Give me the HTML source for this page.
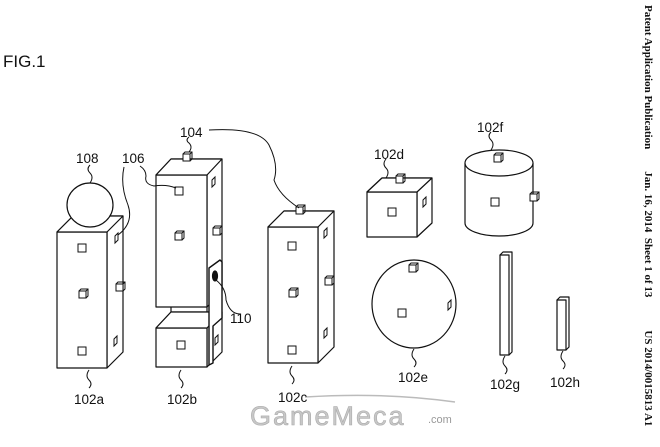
<!DOCTYPE html>
<html><head><meta charset="utf-8"><style>
html,body{margin:0;padding:0;background:#fff;}
svg{display:block;}
text{font-family:"Liberation Sans",sans-serif;fill:#111;}
</style></head><body>
<svg width="660" height="447" viewBox="0 0 660 447" xmlns="http://www.w3.org/2000/svg">
<defs>
<g id="c"><rect x="0" y="0" width="7" height="7" fill="#fff" stroke="#111" stroke-width="1"/><path d="M0 0 l2 -2 h7 v7 l-2 2 M7 0 l2 -2" fill="none" stroke="#111" stroke-width="1"/></g>
<g id="s"><path d="M0 1 l3 -3 v7 l-3 3 z" fill="#fff" stroke="#111" stroke-width="1"/></g>
<g id="q"><rect x="0" y="0" width="8" height="8" fill="#fff" stroke="#111" stroke-width="1"/></g>
</defs>
<g fill="#fff" stroke="#111" stroke-width="1.2" stroke-linejoin="round">
<!-- 102a -->
<path d="M57 232 L73 216 L123 216 L123 352 L107 368 L107 232 Z"/>
<rect x="57" y="232" width="50" height="136"/>
<path d="M57 232 L73 216 L123 216 L107 232 Z"/>
<!-- sphere 108 -->
<ellipse cx="90" cy="205" rx="23" ry="22"/>
<!-- 102b upper -->
<path d="M156 175 L171 159 L222 159 L222 291 L207 307 L207 175 Z"/>
<rect x="156" y="175" width="51" height="132"/>
<path d="M156 175 L171 159 L222 159 L207 175 Z"/>
<!-- 102b lower -->
<path d="M156 328 L171 312 L222 312 L222 352 L207 367 L207 328 Z"/>
<path d="M171 307 L171 312 M207 307 L207 312"/>
<rect x="156" y="328" width="51" height="39"/>
<path d="M156 328 L171 312 L222 312 L207 328 Z"/>
<!-- bracket 110 -->
<path d="M209 268 L220 260 L222 262 L222 318 L213 326 L213 363 L209 365 Z" stroke-width="1.4"/>
<ellipse cx="215" cy="276" rx="2.5" ry="5" fill="#111"/>
<!-- 102c -->
<path d="M268 227 L284 211 L334 211 L334 347 L318 363 L318 227 Z"/>
<rect x="268" y="227" width="50" height="136"/>
<path d="M268 227 L284 211 L334 211 L318 227 Z"/>
<!-- 102d -->
<path d="M367 192 L382 178 L432 178 L432 223 L417 237 L417 192 Z"/>
<rect x="367" y="192" width="50" height="45"/>
<path d="M367 192 L382 178 L432 178 L417 192 Z"/>
<!-- 102f cylinder -->
<path d="M465 163 L465 223 A34 13 0 0 0 533 223 L533 163"/>
<ellipse cx="499" cy="163" rx="34" ry="13"/>
<!-- 102e -->
<ellipse cx="414" cy="304" rx="42" ry="44"/>
<!-- 102g -->
<path d="M500 255 L503 252 L512 252 L512 352 L509 355 Z"/>
<rect x="500" y="255" width="9" height="100"/>
<!-- 102h -->
<path d="M557 300 L560 297 L569 297 L569 347 L566 350 Z"/>
<rect x="557" y="300" width="9" height="50"/>
</g>
<!-- markers -->
<g>
<use href="#q" x="78" y="244"/><use href="#c" x="79" y="291"/><use href="#q" x="78" y="347"/>
<use href="#s" x="115" y="235"/><use href="#c" x="116" y="284"/><use href="#s" x="114" y="338"/>
<use href="#c" x="183" y="154"/><use href="#q" x="175" y="187"/><use href="#c" x="175" y="233"/>
<use href="#s" x="212" y="179"/><use href="#c" x="213" y="228"/><use href="#q" x="177" y="341"/><use href="#s" x="215" y="337"/>
<use href="#c" x="296" y="207"/><use href="#q" x="288" y="242"/><use href="#c" x="289" y="290"/><use href="#q" x="288" y="346"/>
<use href="#s" x="324" y="230"/><use href="#c" x="325" y="278"/><use href="#s" x="324" y="330"/>
<use href="#c" x="396" y="176"/><use href="#q" x="388" y="208"/><use href="#s" x="423" y="199"/>
<use href="#c" x="494" y="155"/><use href="#q" x="491" y="198"/><use href="#c" x="530" y="194"/>
<use href="#c" x="409" y="265"/><use href="#q" x="398" y="309"/><use href="#s" x="448" y="302"/>
</g>
<!-- leaders -->
<g fill="none" stroke="#111" stroke-width="1">
<path d="M89 370 q-4 6 0 10 q4 4 0 8"/>
<path d="M181 370 q-4 6 0 10 q4 4 0 8"/>
<path d="M292 366 q-4 6 0 10 q4 4 0 8"/>
<path d="M414 349 q-4 6 0 10 q4 4 0 8"/>
<path d="M505 356 q-4 6 0 10 q4 4 0 8"/>
<path d="M563 351 q-4 6 0 10 q4 4 0 8"/>
<path d="M386 178 q4 -6 0 -10 q-4 -4 0 -9"/>
<path d="M491 150 q4 -6 0 -10 q-4 -4 0 -8"/>
<path d="M90 183 q4 -6 0 -10 q-4 -4 0 -8"/>
<path d="M189 152 q4 -5 0 -9 q-4 -3 0 -6"/>
<path d="M176 188 q-10 -4 -22 -2 q-10 -2 -8 -10 q0 -6 -6 -10"/>
<path d="M118 235 q16 -12 10 -30 q-8 -20 -4 -38"/>
<path d="M209 130 q50 -3 60 15 q10 20 5 35 q5 15 25 28"/>
<path d="M216 280 q10 8 10 20 q4 14 14 14"/>
<path d="M305 397 q80 -5 150 5" stroke="#bbb" stroke-width="1.5"/>
</g>
<!-- labels -->
<g font-size="13.5">
<text x="3" y="67" font-size="17">FIG.1</text>
<text x="76" y="163">108</text>
<text x="122" y="163">106</text>
<text x="180" y="137">104</text>
<text x="374" y="159">102d</text>
<text x="477" y="132">102f</text>
<text x="230" y="323">110</text>
<text x="74" y="404">102a</text>
<text x="167" y="404">102b</text>
<text x="278" y="402">102c</text>
<text x="398" y="382">102e</text>
<text x="490" y="389">102g</text>
<text x="550" y="387">102h</text>
</g>
<!-- watermark -->
<text x="250" y="425" font-size="27" letter-spacing="2" style="fill:#c8c8c8;stroke:#aaa;stroke-width:0.6">GameMeca</text>
<text x="428" y="423" font-size="11" style="fill:#999">.com</text>
<!-- side header -->
<text transform="translate(645,5) rotate(90)" font-size="11" font-weight="bold" style="font-family:'Liberation Serif',serif;" xml:space="preserve">Patent Application Publication        Jan. 16, 2014  Sheet 1 of 13            US 2014/0015813 A1</text>
</svg>
</body></html>
